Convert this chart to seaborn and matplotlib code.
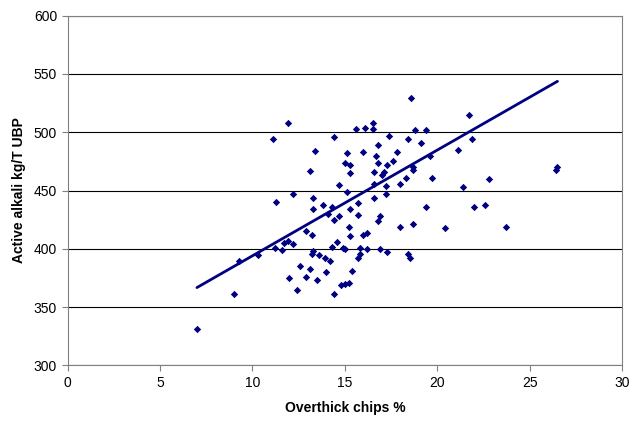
import numpy as np
import pandas as pd
import seaborn as sns
import matplotlib.pyplot as plt

# values
overthick = [11.9, 11.1, 13.4, 13.1, 12.2, 11.3, 13.3, 13.3,
             18.6, 15.6, 16.1, 16.5, 16.5, 18.8, 19.4, 14.4, 17.4, 18.4, 19.1, 16.8,
             15.1, 16.0, 16.7, 17.8, 19.6, 15.0, 15.3, 16.8, 17.3, 17.6,
             15.3, 16.6, 17.1, 17.0, 18.7, 18.7, 19.7, 18.3, 14.7, 16.6,
             17.2, 18.0, 15.1, 17.2, 16.6, 13.8, 14.3, 15.7, 19.4, 15.3,
             14.1, 14.7, 14.4, 15.7, 16.9, 16.8, 15.2, 18.0, 18.7,
             21.7, 21.9, 21.1, 22.8, 21.4, 26.4, 26.5, 22.0, 22.6, 20.4, 23.7,
             18.4, 18.5,
             12.9, 13.2, 9.3, 10.3, 11.2, 11.6, 11.7, 11.9, 12.2, 13.2,
             13.3, 13.6, 12.6, 13.1, 12.0, 12.9, 13.5, 12.4, 9.0, 7.0,
             15.3, 16.0, 16.2, 14.3, 14.6, 14.9, 15.0, 13.9, 14.2, 15.8,
             15.8, 16.2, 15.7, 16.9, 17.3, 14.0, 15.4, 14.8, 15.0, 15.2, 14.4]
alkali = [508, 494, 484, 467, 447, 440, 444, 434,
          529, 503, 504, 508, 503, 502, 502, 496, 497, 494, 491, 489,
          482, 483, 480, 483, 480, 474, 472, 474, 472, 475,
          465, 466, 466, 463, 470, 468, 461, 461, 455, 456,
          454, 456, 449, 447, 444, 438, 436, 439, 436, 434,
          430, 428, 425, 429, 428, 424, 419, 419, 421,
          515, 494, 485, 460, 453, 468, 470, 436, 438, 418, 419,
          396, 392,
          415, 412, 390, 395, 401, 399, 405, 407, 404, 396,
          398, 395, 385, 383, 375, 376, 373, 365, 361, 331,
          411, 412, 414, 402, 406, 401, 400, 392, 390, 401,
          396, 400, 392, 400, 397, 380, 381, 369, 370, 371, 361]

# trend line as drawn in the reference (slope / intercept)
trend_slope = 9.07
trend_intercept = 303.3

df = pd.DataFrame({'x': overthick, 'y': alkali})
xs = np.array([df.x.min(), df.x.max()])
trend = pd.DataFrame({'x': xs, 'y': trend_intercept + trend_slope * xs})

sns.set_style('white')
plt.rcParams['font.family'] = ['Liberation Sans', 'DejaVu Sans']
plt.rcParams['text.color'] = 'black'
plt.rcParams['axes.labelcolor'] = 'black'
plt.rcParams['xtick.labelcolor'] = 'black'
plt.rcParams['ytick.labelcolor'] = 'black'

fig = plt.figure(figsize=(6.31, 4.22), dpi=100)
ax = fig.add_axes([0.107, 0.134, 0.879, 0.829])

navy = '#000080'
sns.scatterplot(data=df, x='x', y='y', ax=ax, color=navy, marker='D',
                s=14, linewidth=0, zorder=3)
sns.lineplot(data=trend, x='x', y='y', ax=ax, color=navy, lw=2, zorder=4)

ax.set_xlim(0, 30)
ax.set_ylim(300, 600)
ax.set_xticks(range(0, 31, 5))
ax.set_yticks(range(300, 601, 50))
ax.yaxis.grid(True, color='black', lw=0.8)
ax.set_axisbelow(True)
for s in ax.spines.values():
    s.set_color('#808080')
    s.set_linewidth(0.8)
ax.tick_params(axis='both', direction='out', length=4, width=0.8,
               color='#808080', labelsize=10, labelcolor='black',
               bottom=True, left=True)
ax.set_xlabel('Overthick chips %', fontsize=10, fontweight='bold',
              labelpad=8, color='black')
ax.set_ylabel('Active alkali kg/T UBP', fontsize=10, fontweight='bold',
              labelpad=6, color='black')

fig.savefig('out.png', dpi=100)
